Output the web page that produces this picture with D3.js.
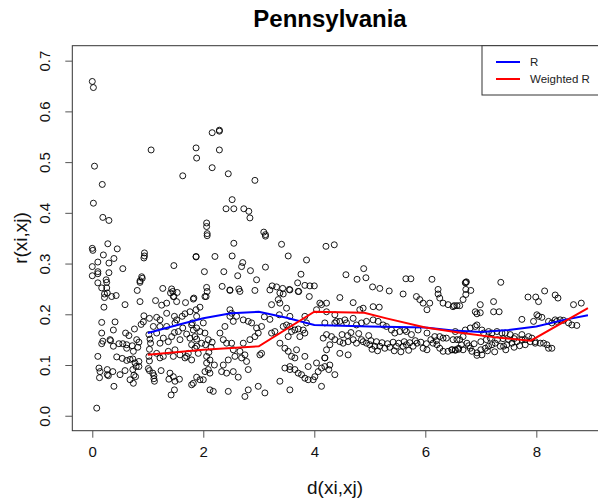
<!DOCTYPE html>
<html><head><meta charset="utf-8">
<script src="https://cdn.jsdelivr.net/npm/d3@7/dist/d3.min.js"></script>
<style>body{margin:0;background:#fff}svg{display:block}text{font-family:"Liberation Sans",Arial,sans-serif}</style>
</head><body>
<script>
const title = "Pennsylvania";
const xLabel = "d(xi,xj)";
const yLabel = "r(xi,xj)";
const xTicks = [0,2,4,6,8];
const yTicks = [0,0.1,0.2,0.3,0.4,0.5,0.6,0.7];
const yTickLabels = ["0.0","0.1","0.2","0.3","0.4","0.5","0.6","0.7"];
const legendNames = ["R","Weighted R"];
const legendColors = ["#0000ff","#ff0000"];
// R line
const rX = [1,1.5,2,2.5,3,3.5,4,5,6,6.5,7,7.5,8,8.5,8.93];
const rY = [0.163,0.178,0.192,0.202,0.205,0.193,0.179,0.176,0.174,0.168,0.165,0.169,0.176,0.189,0.198];
// Weighted R line
const wX = [1,2,3,4,4.9,5.3,6,6.6,7.3,7.9,8.93];
const wY = [0.120,0.130,0.137,0.205,0.203,0.192,0.174,0.164,0.154,0.148,0.212];
// scatter points [d, r]
const pairs = [
[0.00,0.659],[0.02,0.647],[0.04,0.492],[0.18,0.456],[0.02,0.419],[0.19,0.391],[0.30,0.385],[0.00,0.330],[0.01,0.326],[0.20,0.317],
[0.28,0.339],[0.00,0.294],[0.10,0.303],[0.30,0.301],[0.10,0.280],[0.25,0.268],[0.26,0.263],[0.17,0.252],[0.26,0.252],[0.22,0.233],
[0.17,0.184],[0.19,0.147],[0.17,0.142],[0.32,0.150],[0.10,0.117],[0.12,0.094],[0.14,0.087],[0.13,0.075],[0.27,0.081],[0.29,0.079],
[0.08,0.015],[1.63,0.473],[0.45,0.329],[0.39,0.310],[0.94,0.321],[0.94,0.315],[0.93,0.311],[1.87,0.313],[0.55,0.290],[1.47,0.296],
[0.10,0.284],[0.00,0.276],[0.30,0.282],[0.10,0.262],[0.89,0.274],[0.90,0.271],[0.86,0.266],[0.86,0.263],[0.81,0.247],[1.27,0.251],
[1.43,0.250],[1.45,0.245],[1.53,0.243],[0.22,0.240],[0.27,0.242],[0.35,0.235],[0.43,0.237],
[2.16,0.558],[2.29,0.563],[2.29,0.561],[1.87,0.528],[2.29,0.524],[1.88,0.508],[2.16,0.489],[2.45,0.477],[2.93,0.464],[2.52,0.426],
[2.41,0.408],[2.55,0.408],[2.73,0.408],[2.82,0.403],[2.84,0.390],[2.06,0.380],[2.06,0.373],[2.07,0.359],[2.07,0.355],[3.09,0.362],
[3.12,0.357],[3.12,0.354],[2.55,0.340],[3.41,0.338],[4.21,0.334],[1.87,0.314],[2.21,0.314],[2.52,0.315],[2.71,0.302],[2.69,0.294],
[3.53,0.315],[3.86,0.307],[3.12,0.293],[2.02,0.284],[2.37,0.284],[2.85,0.286],[2.62,0.276],[3.76,0.279],[2.96,0.268],[3.70,0.262],
[3.83,0.257],[3.92,0.256],[4.00,0.256],[2.06,0.253],[2.34,0.255],[2.48,0.247],[2.64,0.250],[2.93,0.247],[3.24,0.256],[3.32,0.254],
[3.43,0.251],[3.44,0.240],[3.55,0.249],[3.72,0.245],[3.91,0.235],[2.03,0.235],[1.83,0.232],[1.06,0.524],[1.47,0.235],
[4.36,0.337],[4.89,0.290],[4.57,0.278],[4.77,0.269],[4.93,0.272],[5.05,0.254],[5.18,0.251],[5.35,0.246],[5.60,0.240],[5.65,0.270],
[5.74,0.270],[6.12,0.269],[6.73,0.263],[6.74,0.264],[6.72,0.262],[6.23,0.249],[6.23,0.240],[6.73,0.249],[6.82,0.247],[6.73,0.239],
[7.36,0.263],[5.84,0.235],[4.46,0.233],[7.85,0.234],[7.99,0.234],[8.15,0.246],[8.34,0.238],[8.39,0.232],[6.68,0.229],[8.04,0.225],
[6.99,0.219],[7.23,0.225],[7.23,0.205],[7.33,0.205],[6.90,0.205],[6.93,0.201],[6.99,0.203],[8.67,0.219],[8.81,0.222],[7.74,0.190],
[7.95,0.186],[8.01,0.199],[8.04,0.196],[8.10,0.194],[8.22,0.186],[8.28,0.183],[8.37,0.186],[8.49,0.188],[8.58,0.183],[8.64,0.179],
[8.73,0.178],[8.34,0.189],[8.43,0.189],[8.28,0.133],
[0.21,0.214],[0.59,0.219],[0.86,0.225],[1.14,0.227],[1.25,0.218],[1.34,0.222],[1.41,0.242],[1.46,0.235],[1.52,0.225],[1.68,0.223],
[0.93,0.197],[1.03,0.192],[1.16,0.194],[1.22,0.189],[1.34,0.202],[1.48,0.196],[1.52,0.189],[1.62,0.196],[1.67,0.201],[1.76,0.205],
[1.87,0.209],[1.94,0.214],[0.41,0.185],[0.38,0.169],[0.17,0.163],[0.76,0.171],[0.60,0.163],[0.66,0.158],[0.33,0.148],[0.38,0.137],
[0.48,0.142],[0.55,0.142],[0.62,0.140],[0.62,0.133],[0.72,0.138],[0.82,0.135],[0.74,0.127],[1.02,0.160],[1.04,0.151],[1.05,0.143],
[1.03,0.131],[1.02,0.117],[1.03,0.108],[0.44,0.116],[0.54,0.113],[0.62,0.109],[0.68,0.111],[0.73,0.112],[0.77,0.104],[0.84,0.107],
[0.27,0.091],[0.37,0.087],[0.50,0.081],[0.59,0.089],[0.73,0.091],[0.75,0.080],[0.78,0.077],[0.68,0.071],[0.74,0.064],[0.79,0.097],
[0.84,0.097],[1.01,0.093],[1.03,0.089],[1.09,0.084],[1.11,0.079],[1.11,0.073],[1.12,0.068],[1.24,0.089],[1.38,0.072],[1.46,0.077],
[1.40,0.084],[1.49,0.068],[1.48,0.051],[1.42,0.041],[1.57,0.072],[1.79,0.061],[1.88,0.076],[0.39,0.058],
[0.80,0.150],[0.84,0.145],[0.88,0.180],[0.92,0.185],
[1.16,0.163],[1.22,0.143],[1.28,0.153],[1.37,0.146],[1.43,0.156],[1.48,0.164],[1.55,0.166],[1.63,0.173],[1.70,0.161],[1.58,0.150],
[1.76,0.153],[1.88,0.151],[1.79,0.140],[1.85,0.133],[1.73,0.123],[1.67,0.114],[1.70,0.117],[1.58,0.120],[1.46,0.117],[1.49,0.130],
[1.37,0.127],[1.28,0.117],[1.22,0.114],[1.16,0.123],[1.88,0.173],[1.79,0.179],[1.49,0.183],[1.34,0.176],[1.22,0.176],[1.10,0.176],
[2.05,0.235],[2.07,0.245],[1.82,0.230],[2.48,0.248],[2.66,0.245],[3.20,0.248],[3.56,0.248],[3.71,0.245],[3.38,0.242],[3.35,0.229],
[3.38,0.222],[3.50,0.212],[3.23,0.219],[3.37,0.199],[3.56,0.196],[4.04,0.209],[3.83,0.196],[3.86,0.183],[4.10,0.222],[4.22,0.222],
[4.19,0.183],
[1.80,0.183],[1.88,0.196],[1.82,0.169],[1.85,0.156],[1.94,0.166],[2.00,0.183],[2.03,0.163],[2.09,0.150],[1.97,0.143],[1.88,0.137],
[1.91,0.123],[1.79,0.110],[2.06,0.117],[2.06,0.104],[2.09,0.091],[2.03,0.087],[2.12,0.084],[2.00,0.071],[1.94,0.071],[1.82,0.064],
[2.18,0.048],[2.12,0.051],
[2.10,0.125],[2.14,0.135],[2.04,0.140],[2.12,0.110],[2.20,0.100],[2.16,0.145],
[2.48,0.209],[2.51,0.202],[2.48,0.196],[2.60,0.196],[2.54,0.186],[2.39,0.176],[2.30,0.163],[2.36,0.150],[2.42,0.143],[2.51,0.143],
[2.54,0.130],[2.57,0.117],[2.45,0.110],[2.36,0.100],[2.33,0.087],[2.42,0.084],[2.54,0.087],[2.45,0.048],
[2.72,0.189],[2.81,0.186],[2.87,0.183],[2.96,0.173],[3.05,0.176],[2.99,0.163],[2.93,0.156],[2.84,0.150],[2.72,0.143],[2.66,0.127],
[2.75,0.120],[2.69,0.114],[2.78,0.107],[2.81,0.091],[3.02,0.120],[3.05,0.123],[2.63,0.076],[2.81,0.051],[2.75,0.038],[2.99,0.058],
[3.11,0.045],[3.10,0.195],[3.20,0.190],
[3.23,0.163],[3.29,0.166],[3.44,0.176],[3.50,0.179],[3.56,0.176],[3.59,0.166],[3.65,0.169],[3.71,0.171],[3.80,0.169],[3.83,0.163],
[3.74,0.156],[3.53,0.156],[3.38,0.143],[3.47,0.133],[3.53,0.127],[3.68,0.130],[3.59,0.117],[3.65,0.114],[3.56,0.097],[3.47,0.094],
[3.56,0.091],[3.65,0.091],[3.71,0.084],[3.77,0.081],[3.83,0.074],[3.89,0.071],[3.98,0.071],[4.01,0.077],[4.07,0.087],[4.04,0.104],
[4.13,0.094],[4.19,0.097],[4.19,0.114],[3.83,0.117],[3.38,0.068],[3.56,0.051],[3.89,0.097],
[4.70,0.223],[4.82,0.209],[4.88,0.212],[5.06,0.215],[5.17,0.214],[5.90,0.229],[5.96,0.222],[6.03,0.209],[6.08,0.222],[6.26,0.232],
[6.32,0.222],[6.41,0.219],[6.50,0.215],[6.57,0.217],[4.13,0.219],[4.22,0.205],[4.37,0.199],[4.40,0.186],[4.37,0.183],[4.46,0.186],
[4.55,0.189],[4.58,0.183],[4.70,0.192],[4.76,0.179],[4.85,0.183],[4.94,0.186],[5.06,0.189],[5.15,0.186],[5.24,0.179],[5.30,0.176],
[5.39,0.169],[5.45,0.163],[5.54,0.166],[5.63,0.169],[5.66,0.166],[5.75,0.160],[5.87,0.169],[6.03,0.163],[6.17,0.156],[6.26,0.156],
[6.32,0.153],[6.38,0.153],[6.50,0.150],[6.57,0.150],
[4.16,0.153],[4.22,0.160],[4.31,0.156],[4.37,0.150],[4.46,0.146],[4.52,0.143],[4.61,0.146],[4.70,0.150],[4.76,0.143],[4.85,0.150],
[4.88,0.146],[4.94,0.143],[5.00,0.140],[5.09,0.137],[5.18,0.137],[5.27,0.133],[5.36,0.135],[5.48,0.137],[5.60,0.137],[5.66,0.140],
[5.78,0.137],[5.85,0.143],[5.96,0.133],[6.03,0.130],[6.14,0.143],[6.21,0.140],[6.26,0.133],[6.32,0.127],[6.41,0.127],[6.48,0.130],
[6.54,0.130],[6.60,0.133],[4.22,0.130],[4.19,0.114],[4.28,0.100],[4.26,0.091],[4.37,0.081],[4.13,0.058],[4.61,0.120],[4.46,0.123],
[4.28,0.140],
[5.02,0.148],[5.12,0.146],[5.22,0.144],[5.32,0.142],[5.42,0.145],[5.52,0.143],[5.62,0.146],[5.72,0.144],[5.82,0.148],[5.92,0.145],
[6.02,0.142],[5.04,0.131],[5.14,0.128],[5.44,0.128],[5.56,0.126],[5.70,0.129],[6.10,0.150],[6.20,0.148],
[4.50,0.160],[4.60,0.158],[4.66,0.164],[4.80,0.162],[4.98,0.158],
[6.52,0.217],[6.62,0.217],
[6.54,0.166],[6.72,0.169],[6.81,0.173],[6.90,0.176],[6.93,0.179],[7.02,0.169],[7.05,0.163],[7.14,0.166],[7.20,0.163],[7.29,0.166],
[7.38,0.163],[7.44,0.163],[7.53,0.160],[7.62,0.156],[7.74,0.160],[7.86,0.156],[7.92,0.153],[7.98,0.146],[8.07,0.143],[8.13,0.143],
[8.19,0.140],[8.22,0.133],[6.48,0.130],[6.54,0.129],[6.60,0.131],[6.68,0.130],[6.81,0.133],[6.84,0.127],[6.93,0.124],[7.02,0.120],
[6.93,0.119],[7.08,0.133],[7.14,0.137],[7.20,0.140],[7.26,0.143],[7.35,0.137],[7.41,0.137],[7.47,0.140],[7.56,0.143],[7.65,0.146],
[7.74,0.150],[6.75,0.143],[6.68,0.156],[6.62,0.150],[7.80,0.150],[7.89,0.146],[7.98,0.143],
[6.65,0.140],[6.78,0.138],[6.88,0.142],[7.00,0.146],[7.10,0.150],[7.17,0.153],[7.30,0.150],[7.40,0.152],[7.50,0.150],[7.60,0.152],
[7.00,0.130],[7.12,0.128],[7.25,0.126],[7.45,0.130],[7.60,0.135],[7.70,0.138],[7.80,0.140]
];

const W = 598, H = 504;
const svg = d3.select("body").append("svg").attr("width", W).attr("height", H);
const L = 72.3, R = 611.8, T = 45.7, B = 430.7;
const x = d3.scaleLinear().domain([-0.36, 9.36]).range([L, R]);
const y = d3.scaleLinear().domain([-0.0295, 0.7295]).range([B, T]);

svg.append("defs").append("clipPath").attr("id","clip")
  .append("rect").attr("x", L).attr("y", T).attr("width", R - L).attr("height", B - T);

const plot = svg.append("g").attr("clip-path","url(#clip)");

plot.selectAll("circle.pt").data(pairs).join("circle")
  .attr("class","pt")
  .attr("cx", d => x(d[0])).attr("cy", d => y(d[1])).attr("r", 3)
  .attr("fill","none").attr("stroke","#000").attr("stroke-width",0.9);

const line = d3.line().x(d => x(d[0])).y(d => y(d[1]));
plot.append("path").datum(rX.map((v,i)=>[v,rY[i]])).attr("d", line)
  .attr("fill","none").attr("stroke", legendColors[0]).attr("stroke-width",2);
plot.append("path").datum(wX.map((v,i)=>[v,wY[i]])).attr("d", line)
  .attr("fill","none").attr("stroke", legendColors[1]).attr("stroke-width",2);

// box
svg.append("rect").attr("x", L).attr("y", T).attr("width", R - L).attr("height", B - T)
  .attr("fill","none").attr("stroke","#333").attr("stroke-width",1);

// axes
const xAxis = d3.axisBottom(x).tickValues(xTicks).tickSize(7).tickPadding(9).tickFormat(d3.format("d"));
const gx = svg.append("g").attr("transform",`translate(0,${B})`).call(xAxis);
gx.select(".domain").remove();
gx.selectAll("line").attr("stroke","#555");
gx.selectAll("text").attr("font-size",15).attr("fill","#111").attr("font-family","Liberation Sans, Arial, sans-serif");

const yAxis = d3.axisLeft(y).tickValues(yTicks).tickSize(7).tickFormat((d,i)=>yTickLabels[i]);
const gy = svg.append("g").attr("transform",`translate(${L},0)`).call(yAxis);
gy.select(".domain").remove();
gy.selectAll("line").attr("stroke","#555");
gy.selectAll("text").attr("font-size",15).attr("fill","#111")
  .attr("font-family","Liberation Sans, Arial, sans-serif")
  .attr("text-anchor","middle").attr("dy",null).attr("x",null)
  .attr("transform","translate(-22.5,0) rotate(-90)");

// titles
svg.append("text").attr("x",330).attr("y",27).attr("text-anchor","middle")
  .attr("font-size",24).attr("font-weight","bold").attr("fill","#000").text(title);
svg.append("text").attr("x",335).attr("y",494).attr("text-anchor","middle")
  .attr("font-size",19).attr("fill","#111").text(xLabel);
svg.append("text").attr("transform","translate(27,238) rotate(-90)").attr("text-anchor","middle")
  .attr("font-size",19).attr("fill","#111").text(yLabel);

// legend
const lg = svg.append("g");
lg.append("rect").attr("x",482).attr("y",T).attr("width",R-482).attr("height",95-T)
  .attr("fill","#fff").attr("stroke","#333").attr("stroke-width",1);
legendNames.forEach((n,i)=>{
  const yy = 62 + i*17;
  lg.append("line").attr("x1",496).attr("x2",520).attr("y1",yy).attr("y2",yy)
    .attr("stroke",legendColors[i]).attr("stroke-width",2);
  lg.append("text").attr("x",530).attr("y",yy).attr("dy","0.35em")
    .attr("font-size",11.5).attr("fill","#222").text(n);
});
</script>
</body></html>
